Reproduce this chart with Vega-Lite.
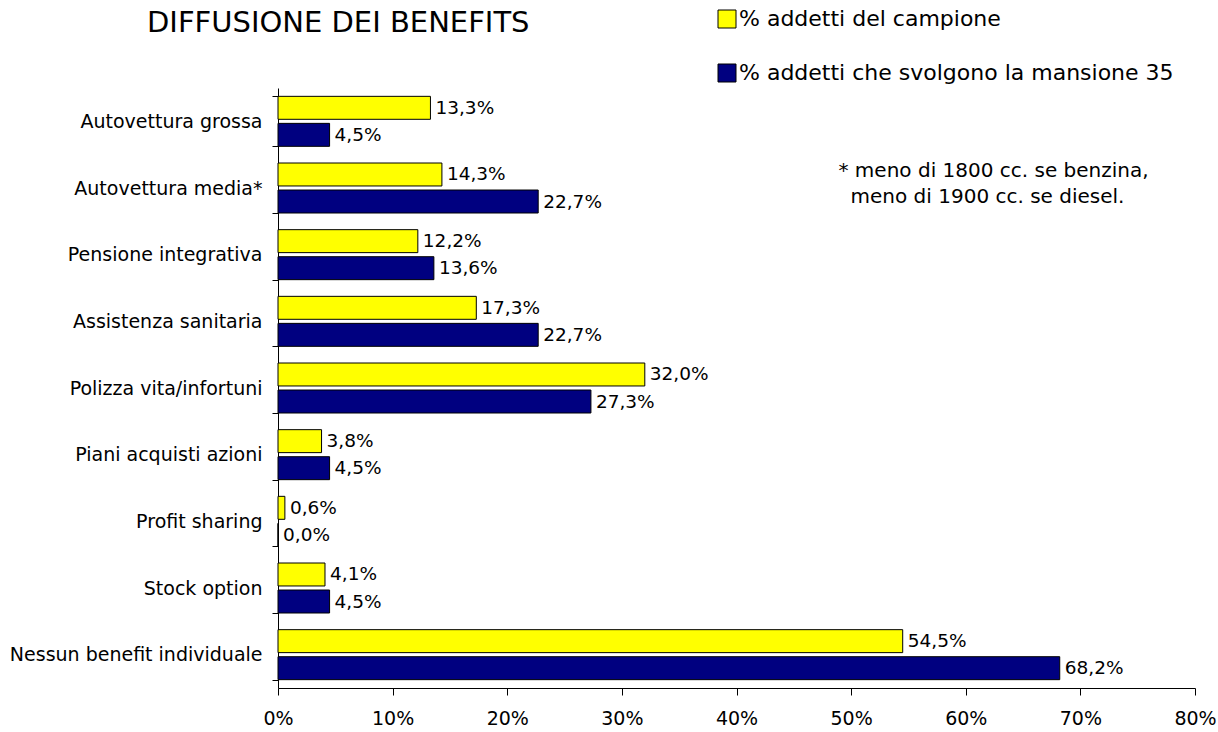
{
  "$schema": "https://vega.github.io/schema/vega-lite/v6.json",
  "autosize": {"type": "none"},
  "width": 917,
  "height": 600,
  "padding": {"left": 278, "top": 88, "right": 23, "bottom": 44},
  "background": "white",
  "title": {
    "text": "DIFFUSIONE DEI BENEFITS",
    "anchor": "start",
    "frame": "group",
    "dx": -131,
    "offset": -30,
    "fontSize": 29,
    "font": "DejaVu Sans",
    "fontWeight": "normal",
    "color": "black"
  },
  "config": {
    "locale": {"number": {"decimal": ",", "thousands": ".", "grouping": [3], "currency": ["€", ""]}},
    "view": {"stroke": null},
    "font": "DejaVu Sans"
  },
  "data": {
    "values": [
      {"cat": "Autovettura grossa", "serie": "% addetti del campione", "v": 0.133},
      {"cat": "Autovettura grossa", "serie": "% addetti che svolgono la mansione 35", "v": 0.045},
      {"cat": "Autovettura media*", "serie": "% addetti del campione", "v": 0.143},
      {"cat": "Autovettura media*", "serie": "% addetti che svolgono la mansione 35", "v": 0.227},
      {"cat": "Pensione integrativa", "serie": "% addetti del campione", "v": 0.122},
      {"cat": "Pensione integrativa", "serie": "% addetti che svolgono la mansione 35", "v": 0.136},
      {"cat": "Assistenza sanitaria", "serie": "% addetti del campione", "v": 0.173},
      {"cat": "Assistenza sanitaria", "serie": "% addetti che svolgono la mansione 35", "v": 0.227},
      {"cat": "Polizza vita/infortuni", "serie": "% addetti del campione", "v": 0.32},
      {"cat": "Polizza vita/infortuni", "serie": "% addetti che svolgono la mansione 35", "v": 0.273},
      {"cat": "Piani acquisti azioni", "serie": "% addetti del campione", "v": 0.038},
      {"cat": "Piani acquisti azioni", "serie": "% addetti che svolgono la mansione 35", "v": 0.045},
      {"cat": "Profit sharing", "serie": "% addetti del campione", "v": 0.006},
      {"cat": "Profit sharing", "serie": "% addetti che svolgono la mansione 35", "v": 0.0},
      {"cat": "Stock option", "serie": "% addetti del campione", "v": 0.041},
      {"cat": "Stock option", "serie": "% addetti che svolgono la mansione 35", "v": 0.045},
      {"cat": "Nessun benefit individuale", "serie": "% addetti del campione", "v": 0.545},
      {"cat": "Nessun benefit individuale", "serie": "% addetti che svolgono la mansione 35", "v": 0.682}
    ]
  },
  "layer": [
    {
      "mark": {"type": "bar", "stroke": "black", "strokeWidth": 1},
      "encoding": {
        "y": {
          "field": "cat", "type": "nominal", "sort": null,
          "scale": {"paddingInner": 0.25, "paddingOuter": 0.125},
          "axis": {
            "title": null, "labelFontSize": 19, "labelColor": "black", "labelPadding": 10,
            "domainColor": "black", "tickColor": "black", "tickSize": 6, "tickBand": "extent",
            "labelFont": "DejaVu Sans", "labelLimit": 0
          }
        },
        "yOffset": {
          "field": "serie", "type": "nominal",
          "sort": ["% addetti del campione", "% addetti che svolgono la mansione 35"],
          "scale": {"paddingInner": 0.15}
        },
        "x": {
          "field": "v", "type": "quantitative",
          "scale": {"domain": [0, 0.8], "nice": false},
          "axis": {
            "title": null, "format": ".0%", "values": [0, 0.1, 0.2, 0.3, 0.4, 0.5, 0.6, 0.7, 0.8],
            "grid": false, "labelFontSize": 19, "labelColor": "black", "labelPadding": 14,
            "domainColor": "black", "tickColor": "black", "tickSize": 7, "labelFlush": false
          }
        },
        "color": {
          "field": "serie", "type": "nominal",
          "sort": ["% addetti del campione", "% addetti che svolgono la mansione 35"],
          "scale": {"domain": ["% addetti del campione", "% addetti che svolgono la mansione 35"], "range": ["#FFFF00", "#000080"]},
          "legend": {
            "title": null, "orient": "none", "legendX": 438, "legendY": -80,
            "symbolType": "square", "symbolSize": 324, "symbolStrokeColor": "black", "symbolStrokeWidth": 1,
            "symbolOpacity": 1,
            "labelFontSize": 22, "labelColor": "black", "labelFont": "DejaVu Sans", "rowPadding": 32,
            "labelOffset": 1, "labelLimit": 0
          }
        }
      }
    },
    {
      "mark": {"type": "text", "align": "left", "baseline": "middle", "dx": 5, "fontSize": 18.5, "color": "black"},
      "encoding": {
        "y": {"field": "cat", "type": "nominal", "sort": null},
        "yOffset": {
          "field": "serie", "type": "nominal",
          "sort": ["% addetti del campione", "% addetti che svolgono la mansione 35"]
        },
        "x": {"field": "v", "type": "quantitative"},
        "text": {"field": "v", "type": "quantitative", "format": ".1%"}
      }
    },
    {
      "data": {"values": [{"cat": "Autovettura media*", "x": 0.489, "note": "* meno di 1800 cc. se benzina,"}]},
      "mark": {"type": "text", "align": "left", "baseline": "middle", "dy": -17, "fontSize": 20, "color": "black"},
      "encoding": {
        "y": {"field": "cat", "type": "nominal", "sort": null},
        "x": {"field": "x", "type": "quantitative"},
        "text": {"field": "note"}
      }
    },
    {
      "data": {"values": [{"cat": "Autovettura media*", "x": 0.4995, "note": "meno di 1900 cc. se diesel."}]},
      "mark": {"type": "text", "align": "left", "baseline": "middle", "dy": 9, "fontSize": 20, "color": "black"},
      "encoding": {
        "y": {"field": "cat", "type": "nominal", "sort": null},
        "x": {"field": "x", "type": "quantitative"},
        "text": {"field": "note"}
      }
    }
  ]
}
